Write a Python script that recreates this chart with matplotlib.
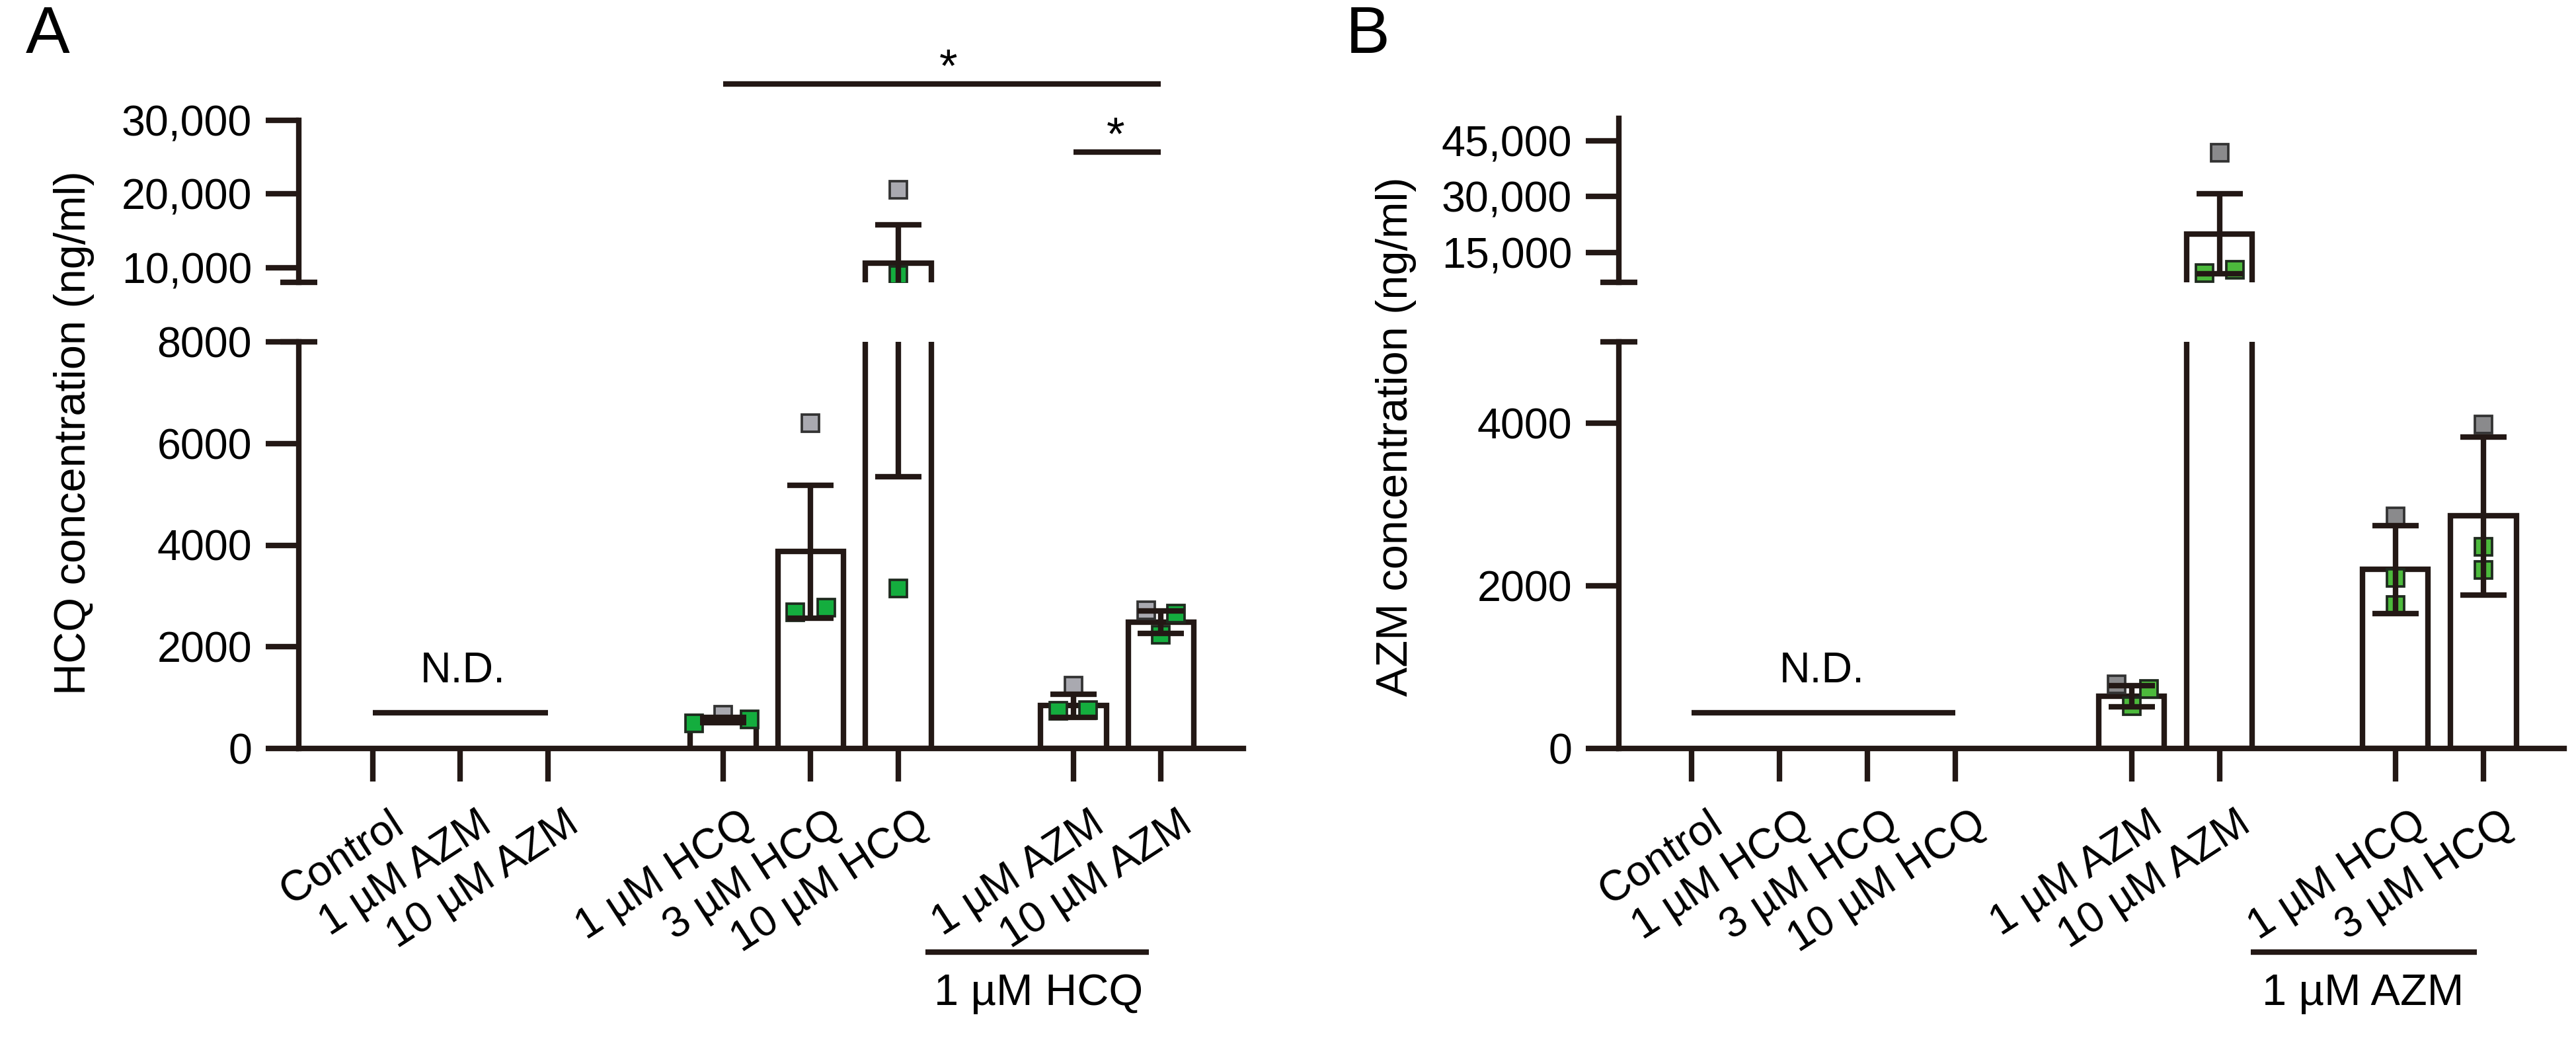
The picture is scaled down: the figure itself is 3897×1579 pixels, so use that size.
import matplotlib
matplotlib.use('Agg')
import matplotlib.pyplot as plt
import matplotlib.transforms as mtransforms

plt.rcParams['font.family'] = ['Liberation Sans', 'DejaVu Sans']

INK = '#231815'

# ---- panel A: HCQ concentration ----
hcq_groups = ['Control', '1 µM AZM', '10 µM AZM', '1 µM HCQ', '3 µM HCQ',
              '10 µM HCQ', '1 µM AZM', '10 µM AZM']
hcq_bar_groups = [3, 4, 5, 6, 7]           # groups that were detected
hcq_mean = [560, 3870, 10600, 840, 2480]
hcq_sem = [50, 1310, 5250, 230, 220]
hcq_rep_gray = [660, 6400, 20600, 1240, 2720]
hcq_rep_green1 = [494, 2680, 9000, 740, 2650]
hcq_rep_green2 = [572, 2770, 3150, 760, 2240]
hcq_nd = 'N.D.'
hcq_group_label = '1 µM HCQ'

# ---- panel B: AZM concentration ----
azm_groups = ['Control', '1 µM HCQ', '3 µM HCQ', '10 µM HCQ', '1 µM AZM',
              '10 µM AZM', '1 µM HCQ', '3 µM HCQ']
azm_bar_groups = [4, 5, 6, 7]
azm_mean = [640, 20000, 2200, 2860]
azm_sem = [130, 10700, 540, 970]
azm_rep_gray = [790, 41700, 2857, 3984]
azm_rep_green1 = [735, 9500, 2098, 2482]
azm_rep_green2 = [522, 10400, 1763, 2196]
azm_nd = 'N.D.'
azm_group_label = '1 µM AZM'

# layout (positions on the category axis and point jitter)
hcq_x = [0, 1, 2, 4, 5, 6, 8, 9]
azm_x = [0, 1, 2, 3, 5, 6, 8, 9]
hcq_jitter = [(0, -0.33, 0.3), (0, -0.18, 0.18), (0, 0, 0), (0, -0.17, 0.17),
              (-0.17, 0.17, 0)]
azm_jitter = [(-0.17, 0.2, 0), (0, -0.17, 0.18), (0, 0, 0), (0, 0, 0)]

FS = 15.5
LW = 2.0
W, H, DPI = 3897, 1579, 300

fig = plt.figure(figsize=(W / DPI, H / DPI), dpi=DPI)


def fx(px):
    return px / W


def fy(py):
    return 1 - py / H


def draw_bars(axes, xs, mean, sem, reps, jitter, gray, green):
    cols = [gray, green, green]
    edges = ['#333333', '#1f2a1f', '#1f2a1f']
    for ax in axes:
        ax.bar(xs, mean, width=0.75, color='white', edgecolor=INK,
               linewidth=LW, zorder=2)
        for i, x in enumerate(xs):
            for j in range(3):
                ax.plot(x + jitter[i][j], reps[j][i], 's', ms=6.2,
                        mfc=cols[j], mec=edges[j], mew=0.9, zorder=3)
        ax.errorbar(xs, mean, yerr=sem, fmt='none', ecolor=INK,
                    elinewidth=LW, capsize=8.5, capthick=LW, zorder=4)


def break_mark(ax, yfrac):
    half = 28 / (ax.get_position().width * W)
    ax.plot([-half, half], [yfrac, yfrac], color=INK, lw=LW,
            solid_capstyle='butt', clip_on=False, transform=ax.transAxes)


def style_lower(ax, xlim, ylim, yticks, xpos, xlabels):
    ax.set_xlim(*xlim)
    ax.set_ylim(*ylim)
    for s in ('top', 'right'):
        ax.spines[s].set_visible(False)
    for s in ('left', 'bottom'):
        ax.spines[s].set_linewidth(LW)
        ax.spines[s].set_color(INK)
    ax.set_yticks(yticks, [str(t) for t in yticks])
    ax.set_xticks(xpos, xlabels, rotation=33, ha='right')
    ax.tick_params(axis='both', direction='out', length=12, width=LW,
                   color=INK, labelsize=FS)
    ax.tick_params(axis='x', pad=8)
    ax.tick_params(axis='y', pad=5)
    shift = mtransforms.ScaledTranslation(57 / DPI, 0, fig.dpi_scale_trans)
    for lab in ax.get_xticklabels():
        lab.set_transform(lab.get_transform() + shift)
    break_mark(ax, 1)


def style_upper(ax, xlim, ylim, yticks, ylabels):
    ax.set_xlim(*xlim)
    ax.set_ylim(*ylim)
    for s in ('top', 'right', 'bottom'):
        ax.spines[s].set_visible(False)
    ax.spines['left'].set_linewidth(LW)
    ax.spines['left'].set_color(INK)
    ax.set_xticks([])
    ax.set_yticks(yticks, ylabels)
    ax.tick_params(axis='y', direction='out', length=12, width=LW, color=INK,
                   labelsize=FS, pad=5)
    ax.patch.set_visible(False)
    break_mark(ax, 0)


# ---------------- panel A ----------------
axA_lo = fig.add_axes([fx(452), fy(1132), fx(1881 - 452), fy(517) - fy(1132)])
axA_hi = fig.add_axes([fx(452), fy(427), fx(1881 - 452), fy(182) - fy(427)])

xa = [hcq_x[i] for i in hcq_bar_groups]
draw_bars([axA_lo, axA_hi], xa, hcq_mean, hcq_sem,
          [hcq_rep_gray, hcq_rep_green1, hcq_rep_green2], hcq_jitter,
          '#a9a9b0', '#14ad3e')
style_lower(axA_lo, (-0.845, 9.94), (0, 8000), [0, 2000, 4000, 6000, 8000],
            hcq_x, hcq_groups)
style_upper(axA_hi, (-0.845, 9.94), (8000, 30000), [10000, 20000, 30000],
            ['10,000', '20,000', '30,000'])

axA_lo.plot([0, 2], [703, 703], color=INK, lw=LW, solid_capstyle='butt')
axA_lo.text(1.03, 1520, hcq_nd, ha='center', va='center', fontsize=FS)

# significance bars
for x0, x1, y, xs in [(4, 9, 34900, 6.57), (8, 9, 25700, 8.48)]:
    axA_hi.plot([x0, x1], [y, y], color=INK, lw=LW, solid_capstyle='butt',
                clip_on=False)
    axA_hi.annotate('*', (xs, y), xytext=(0, 1), textcoords='offset points',
                    ha='center', va='baseline', fontsize=17,
                    annotation_clip=False)

ga = mtransforms.blended_transform_factory(axA_lo.transData, fig.transFigure)
axA_lo.plot([6.31, 8.86], [fy(1440)] * 2, color=INK, lw=LW,
            solid_capstyle='butt', transform=ga, clip_on=False)
axA_lo.text(7.6, fy(1503), hcq_group_label, transform=ga, ha='center',
            va='center', fontsize=16)

fig.text(fx(112), fy(655), 'HCQ concentration (ng/ml)', rotation=90,
         ha='center', va='center', fontsize=16)
fig.text(fx(72), fy(54), 'A', ha='center', va='center', fontsize=24)

# ---------------- panel B ----------------
axB_lo = fig.add_axes([fx(2449), fy(1132), fx(3879 - 2449), fy(517) - fy(1132)])
axB_hi = fig.add_axes([fx(2449), fy(427), fx(3879 - 2449), fy(179) - fy(427)])

xb = [azm_x[i] for i in azm_bar_groups]
draw_bars([axB_lo, axB_hi], xb, azm_mean, azm_sem,
          [azm_rep_gray, azm_rep_green1, azm_rep_green2], azm_jitter,
          '#8a8a8c', '#4cba3c')
style_lower(axB_lo, (-0.83, 9.92), (0, 5000), [0, 2000, 4000],
            azm_x, azm_groups)
style_upper(axB_hi, (-0.83, 9.92), (7000, 51000), [15000, 30000, 45000],
            ['15,000', '30,000', '45,000'])

axB_lo.plot([0, 3], [440, 440], color=INK, lw=LW, solid_capstyle='butt')
axB_lo.text(1.48, 950, azm_nd, ha='center', va='center', fontsize=FS)

gb = mtransforms.blended_transform_factory(axB_lo.transData, fig.transFigure)
axB_lo.plot([6.36, 8.93], [fy(1440)] * 2, color=INK, lw=LW,
            solid_capstyle='butt', transform=gb, clip_on=False)
axB_lo.text(7.63, fy(1503), azm_group_label, transform=gb, ha='center',
            va='center', fontsize=16)

fig.text(fx(2112), fy(660), 'AZM concentration (ng/ml)', rotation=90,
         ha='center', va='center', fontsize=16)
fig.text(fx(2069), fy(54), 'B', ha='center', va='center', fontsize=24)

fig.savefig('out.png', dpi=DPI, facecolor='white')
